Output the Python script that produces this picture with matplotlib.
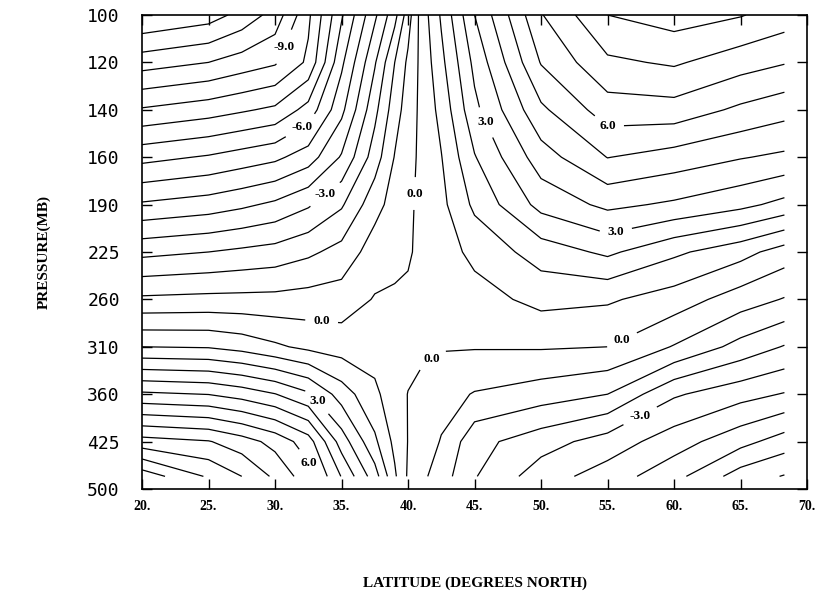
import numpy as np
import matplotlib.pyplot as plt

# pressure levels on the vertical axis (mb); drawn evenly spaced
p_ticks = [100, 120, 140, 160, 190, 225, 260, 310, 360, 425, 500]
lat_ticks = [20, 25, 30, 35, 40, 45, 50, 55, 60, 65, 70]

# analysis grid: latitude columns, pressure rows
lats = [20, 25, 27.5, 30, 32.5, 35, 37.5, 39, 40, 41, 42.5, 45, 50, 55, 60, 65, 68.3]
pres = [100, 120, 140, 160, 190, 225, 260, 310, 360, 425, 480]

field = [
    [-12.0, -11.6, -11.0, -10.2, -8.4, -6.1, -3.9, -2.5, -1.1, 0.3, 1.6, 3.75, 6.7, 8.25, 8.6, 8.3, 7.9],
    [-10.09, -9.75, -9.41, -9.1, -8.1, -5.41, -3.08, -1.5, -0.6, 0.2, 1.3, 3.2, 6.05, 7.36, 7.6, 7.08, 6.8],
    [-8.17, -7.84, -7.6, -7.35, -6.47, -4.7, -2.46, -1.09, -0.4, 0.18, 0.98, 2.81, 5.1, 6.39, 6.45, 5.85, 5.53],
    [-6.24, -5.92, -5.67, -5.42, -4.87, -3.67, -1.88, -0.71, -0.3, 0.19, 0.72, 2.2, 4.16, 5.27, 4.93, 4.55, 4.35],
    [-4.4, -4.14, -3.9, -3.6, -3.1, -2.35, -1.02, -0.45, -0.15, 0.18, 0.55, 1.66, 3.25, 3.93, 3.63, 3.21, 2.77],
    [-2.46, -2.25, -2.1, -1.96, -1.65, -1.24, -0.38, -0.2, -0.1, 0.2, 0.4, 0.95, 1.85, 2.4, 1.65, 1.03, 0.4],
    [-0.61, -0.54, -0.53, -0.52, -0.45, -0.39, 0.05, 0.1, 0.15, 0.3, 0.35, 0.45, 0.97, 0.85, 0.4, -0.38, -0.8],
    [1.5, 1.44, 1.22, 0.88, 0.57, 0.4, 0.45, 0.35, 0.25, 0.15, 0.05, 0.05, 0.07, 0.0, -0.8, -1.76, -2.3],
    [4.64, 4.48, 4.19, 3.78, 3.12, 1.9, 0.9, 0.35, -0.02, -0.19, -0.45, -0.8, -1.13, -1.5, -2.9, -3.47, -3.8],
    [7.8, 7.55, 7.09, 6.5, 5.6, 3.4, 1.65, 0.55, -0.02, -0.3, -0.8, -2.0, -2.68, -3.33, -4.15, -5.0, -5.6],
    [10.2, 8.9, 8.25, 7.35, 6.3, 4.46, 2.6, 0.87, -0.1, -0.56, -1.15, -2.2, -3.4, -4.1, -5.0, -6.35, -6.8],
]

# where the contour labels sit (lat, mb)
label_lat = [31.8, 32.2, 34.0, 40.5, 45.6, 55.0, 55.7, 33.5, 41.7, 56.2, 33.0, 57.2, 32.3]
label_p = [116, 149, 186, 183, 146, 149, 214, 284, 321, 306, 373, 381, 460]

# pressure axis: each listed level gets the same spacing
p_ext = np.array([0] + p_ticks + [1000], dtype=float)
i_ext = np.array([-5] + list(range(len(p_ticks))) + [10 + 500 / 75])


def p_to_i(p):
    return np.interp(p, p_ext, i_ext)


def i_to_p(i):
    return np.interp(i, i_ext, p_ext)


fig = plt.figure(figsize=(8.19, 6.04), dpi=100)
ax = fig.add_axes([0.1734, 0.1904, 0.812, 0.7848])
ax.set_yscale('function', functions=(p_to_i, i_to_p))

# contour interval 0.75, every fourth line (multiples of 3) carries a label
k = np.arange(-20, 16)
plain = k[k % 4 != 0] * 0.75
marked = k[k % 4 == 0] * 0.75

X, Y = np.meshgrid(lats, pres)
Z = np.array(field)
ax.contour(X, Y, Z, levels=plain, colors='black', linewidths=0.9, linestyles='solid')
cs = ax.contour(X, Y, Z, levels=marked, colors='black', linewidths=0.9, linestyles='solid')

ax.set_xlim(20, 70)
ax.set_ylim(500, 100)

labels = ax.clabel(cs, inline=True, inline_spacing=6, fmt='%.1f', fontsize=9.5,
                   manual=list(zip(label_lat, label_p)))
for t in labels:
    t.set_fontweight('bold')
    t.set_family('Liberation Serif')
    t.set_rotation(0)

ax.set_xticks(lat_ticks)
ax.set_xticklabels([f'{v}.' for v in lat_ticks], fontfamily='Liberation Serif',
                   fontweight='bold', fontsize=10)
ax.set_yticks(p_ticks)
ax.set_yticklabels([str(p) for p in p_ticks], fontfamily='DejaVu Sans Mono', fontsize=13)
ax.yaxis.set_minor_locator(plt.NullLocator())
ax.tick_params(direction='in', length=7, width=1, top=True, right=True)
ax.tick_params(axis='y', pad=16)
ax.tick_params(axis='x', pad=8)
for s in ax.spines.values():
    s.set_linewidth(1.2)

ax.set_xlabel('LATITUDE (DEGREES NORTH)', fontfamily='Liberation Serif',
              fontweight='bold', fontsize=11, labelpad=46)
ax.set_ylabel('PRESSURE(MB)', fontfamily='Liberation Serif',
              fontweight='bold', fontsize=11, labelpad=26)

fig.savefig('out.png', dpi=100)
